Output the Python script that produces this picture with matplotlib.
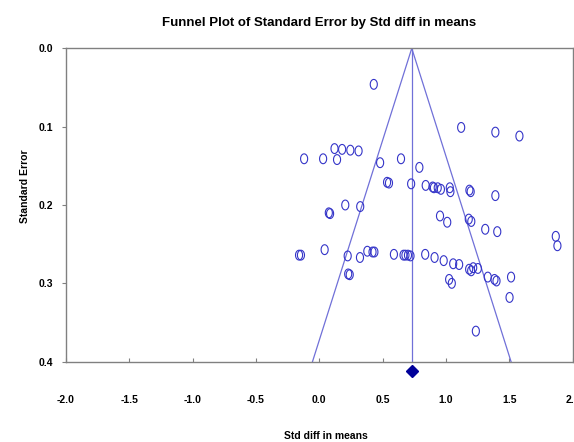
import matplotlib
matplotlib.use("Agg")
import matplotlib.pyplot as plt
import numpy as np
from matplotlib.path import Path

# effect sizes (std diff in means) and standard errors
std_diff = [0.43, 1.12, 1.39, 1.58, 0.12, 0.18, 0.245, 0.31, -0.12, 0.03,
            0.14, 0.48, 0.645, 0.79, 0.535, 0.55, 0.725, 0.84, 0.895, 0.905,
            0.935, 0.96, 1.03, 1.035, 1.185, 1.195, 1.39, 0.205, 0.323, 0.075,
            0.085, 0.953, 1.01, 1.18, 1.20, 1.31, 1.405, 1.867, 1.88, -0.16,
            -0.145, 0.042, 0.224, 0.321, 0.379, 0.42, 0.435, 0.589, 0.665, 0.68,
            0.70, 0.72, 0.836, 0.91, 0.982, 1.057, 1.104, 1.025, 1.046, 1.183,
            1.215, 1.199, 1.252, 1.33, 1.383, 1.399, 1.514, 1.502, 1.236, 0.228,
            0.24]
std_err = [0.046, 0.101, 0.107, 0.112, 0.128, 0.129, 0.130, 0.131, 0.141, 0.141,
           0.142, 0.146, 0.141, 0.152, 0.171, 0.172, 0.173, 0.175, 0.177, 0.178,
           0.178, 0.180, 0.178, 0.183, 0.181, 0.183, 0.188, 0.200, 0.202, 0.210,
           0.211, 0.214, 0.222, 0.218, 0.221, 0.231, 0.234, 0.240, 0.252, 0.264,
           0.264, 0.257, 0.265, 0.267, 0.259, 0.260, 0.260, 0.263, 0.264, 0.264,
           0.264, 0.265, 0.263, 0.267, 0.271, 0.275, 0.276, 0.295, 0.300, 0.282,
           0.280, 0.284, 0.281, 0.292, 0.295, 0.297, 0.292, 0.318, 0.361, 0.288,
           0.289]
mean_effect = 0.73
diamond_se = 0.412
se_max = 0.4
xticks = [-2.0, -1.5, -1.0, -0.5, 0.0, 0.5, 1.0, 1.5, 2.0]
yticks = [0.0, 0.1, 0.2, 0.3, 0.4]

plt.rcParams['font.family'] = ['Liberation Sans Narrow', 'Liberation Sans', 'DejaVu Sans']
plt.rcParams['font.weight'] = 'bold'

fig = plt.figure(figsize=(5.74, 4.42), dpi=100)
ax = fig.add_axes([0.115, 0.1817, 0.8826, 0.709])

# tall ellipse marker like the original
t = np.linspace(0, 2 * np.pi, 60)
ellipse = Path(np.column_stack([0.72 * np.cos(t), np.sin(t)]))

ax.scatter(std_diff, std_err, marker=ellipse, s=50, facecolors='none',
           edgecolors='#3434c8', linewidths=0.8, zorder=3)

line_col = '#7070d8'
ax.plot([mean_effect, mean_effect], [0, se_max], color=line_col, lw=0.9)
ax.plot([mean_effect - 1.96 * se_max, mean_effect, mean_effect + 1.96 * se_max],
        [se_max, 0, se_max], color=line_col, lw=0.9)
ax.plot([mean_effect], [diamond_se], marker='D', color='#00009a', ms=6.5,
        clip_on=False, zorder=4)

ax.set_xlim(-2.0, 2.0)
ax.set_ylim(se_max, 0)
ax.set_xticks(xticks)
ax.set_xticklabels(['%.1f' % v for v in xticks])
ax.set_yticks(yticks)
ax.set_yticklabels(['%.1f' % v for v in yticks])
ax.tick_params(axis='x', direction='in', length=3, pad=24, labelsize=7.5, color='#808080')
ax.tick_params(axis='y', direction='out', length=3, pad=6, labelsize=7.5, color='#808080')
for s in ax.spines.values():
    s.set_color('#808080')
    s.set_linewidth(1.0)

ax.set_title('Funnel Plot of Standard Error by Std diff in means',
             fontsize=9.5, fontweight='bold', pad=16)
fig.text(0.567, 0.0136, 'Std diff in means', ha='center', va='center',
         fontsize=7.5, fontweight='bold')
fig.text(0.044, 0.578, 'Standard Error', ha='center', va='center',
         rotation=90, fontsize=7.5, fontweight='bold')

fig.savefig('out.png', dpi=100)
